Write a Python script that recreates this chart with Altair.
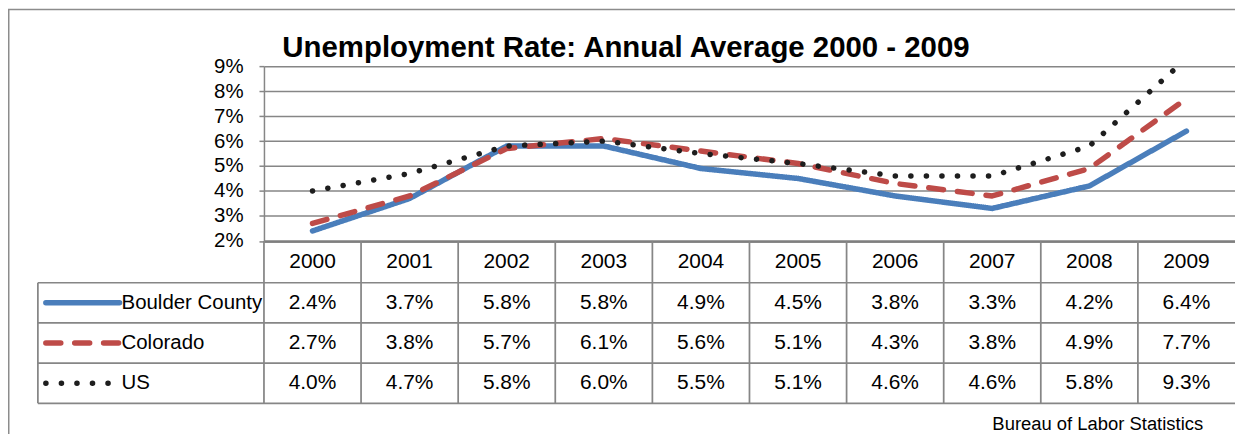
import altair as alt
import pandas as pd

# ---- data ----
years = [2000, 2001, 2002, 2003, 2004, 2005, 2006, 2007, 2008, 2009]
series_names = ["Boulder County", "Colorado", "US"]
boulder = [2.4, 3.7, 5.8, 5.8, 4.9, 4.5, 3.8, 3.3, 4.2, 6.4]
colorado = [2.7, 3.8, 5.7, 6.1, 5.6, 5.1, 4.3, 3.8, 4.9, 7.7]
us = [4.0, 4.7, 5.8, 6.0, 5.5, 5.1, 4.6, 4.6, 5.8, 9.3]
y_ticks = [2, 3, 4, 5, 6, 7, 8, 9]
title_text = "Unemployment Rate: Annual Average 2000 - 2009"
source_text = "Bureau of Labor Statistics"

# ---- styles ----
colors = ["#4A7EBB", "#BE4B48", "#1E1E1E"]
dashes = [[1, 0], [15, 14], [0.1, 15.5]]
widths = [5.5, 5.5, 6.5]
GRID = "#868686"
FONT = "Liberation Sans"

rows = []
for si, (name, vals) in enumerate(zip(series_names, [boulder, colorado, us])):
    for yr, v in zip(years, vals):
        rows.append({"year": yr, "series": name, "value": v / 100,
                     "label": f"{v:.1f}%", "row": si + 1.5})
df = pd.DataFrame(rows)
years_df = pd.DataFrame({"year": years, "row": 0.5, "top": 0, "bottom": 4})
legend_df = pd.DataFrame({"series": series_names, "row": [1.5, 2.5, 3.5]})
hl_df = pd.DataFrame({"row": [1, 2, 3, 4]})
edge_df = pd.DataFrame({"top": [1], "bottom": [4]})
one_df = pd.DataFrame({"a": [0]})

xscale = alt.Scale(type="band", paddingInner=0, paddingOuter=0)
xaxis = alt.Axis(title=None, labels=False, ticks=False, grid=False, domain=True,
                 domainColor="#7f7f7f", domainWidth=2.5)


def xyear(**kw):
    return alt.X("year:O", scale=xscale, axis=xaxis, **kw)


rowscale = alt.Scale(domain=[0, 1, 4], range=[175.5, 217.5, 338.5])

color_enc = alt.Color("series:N", scale=alt.Scale(domain=series_names, range=colors), legend=None)
dash_enc = alt.StrokeDash("series:N", scale=alt.Scale(domain=series_names, range=dashes), legend=None)
width_enc = alt.StrokeWidth("series:N", scale=alt.Scale(domain=series_names, range=widths), legend=None)

lines = alt.Chart(df).mark_line(clip=True, strokeCap="round", strokeJoin="round").encode(
    x=xyear(),
    y=alt.Y("value:Q",
            scale=alt.Scale(domain=[0.02, 0.09], nice=False, zero=False),
            axis=alt.Axis(values=[t / 100 for t in y_ticks], format=".0%", title=None,
                          grid=True, gridColor=GRID, gridWidth=1.5,
                          tickColor=GRID, tickSize=5, tickWidth=1.5,
                          domainColor=GRID, domainWidth=1.5,
                          labelFont=FONT, labelFontSize=20.5, labelColor="black",
                          labelPadding=16)),
    color=color_enc, strokeDash=dash_enc, strokeWidth=width_enc,
)

vlines = alt.Chart(years_df).mark_rule(color=GRID, strokeWidth=1.75).encode(
    x=xyear(bandPosition=0),
    y=alt.Y("top:Q", scale=rowscale, axis=None), y2="bottom:Q")

edge = alt.Chart(edge_df).mark_rule(color=GRID, strokeWidth=1.75).encode(
    x=alt.value(-227),
    y=alt.Y("top:Q", scale=rowscale, axis=None), y2="bottom:Q")

hlines = alt.Chart(hl_df).mark_rule(color=GRID, strokeWidth=1.75).encode(
    x=alt.value(-227), x2=alt.value(975),
    y=alt.Y("row:Q", scale=rowscale, axis=None))

header = alt.Chart(years_df).mark_text(font=FONT, fontSize=21, color="black", baseline="middle").encode(
    x=xyear(), y=alt.Y("row:Q", scale=rowscale, axis=None), text="year:O")

cells = alt.Chart(df).mark_text(font=FONT, fontSize=21, color="black", baseline="middle").encode(
    x=xyear(), y=alt.Y("row:Q", scale=rowscale, axis=None), text="label:N")

leg_lines = alt.Chart(legend_df).mark_rule(strokeCap="round").encode(
    x=alt.value(-219), x2=alt.value(-145),
    y=alt.Y("row:Q", scale=rowscale, axis=None),
    color=color_enc, strokeDash=dash_enc, strokeWidth=width_enc)

leg_text = alt.Chart(legend_df).mark_text(font=FONT, fontSize=20.5, color="black",
                                          align="left", baseline="middle").encode(
    x=alt.value(-143), y=alt.Y("row:Q", scale=rowscale, axis=None), text="series:N")

title = alt.Chart(one_df).mark_text(font=FONT, fontSize=29.5, fontWeight="bold", color="black",
                                    align="center", baseline="alphabetic",
                                    text=title_text).encode(
    x=alt.value(363.5), y=alt.value(-9))

source = alt.Chart(one_df).mark_text(font=FONT, fontSize=18.5, color="black",
                                     align="right", baseline="alphabetic",
                                     text=source_text).encode(
    x=alt.value(943), y=alt.value(365.5))

border = alt.Chart(one_df).mark_rect(fill=None, stroke="#8c8c8c", strokeWidth=1.5).encode(
    x=alt.value(-256.25), x2=alt.value(1100), y=alt.value(-56.75), y2=alt.value(600))

chart = alt.layer(
    border, vlines, edge, hlines, header, cells, leg_lines, leg_text, lines, title, source
).resolve_scale(y="independent").properties(
    width=975, height=175.5,
    autosize=alt.AutoSizeParams(type="none"),
    padding={"left": 257, "top": 57.5, "right": 0, "bottom": 193},
).configure_view(stroke=None)

chart.save("out.html", embed_options={"renderer": "svg", "actions": False})
